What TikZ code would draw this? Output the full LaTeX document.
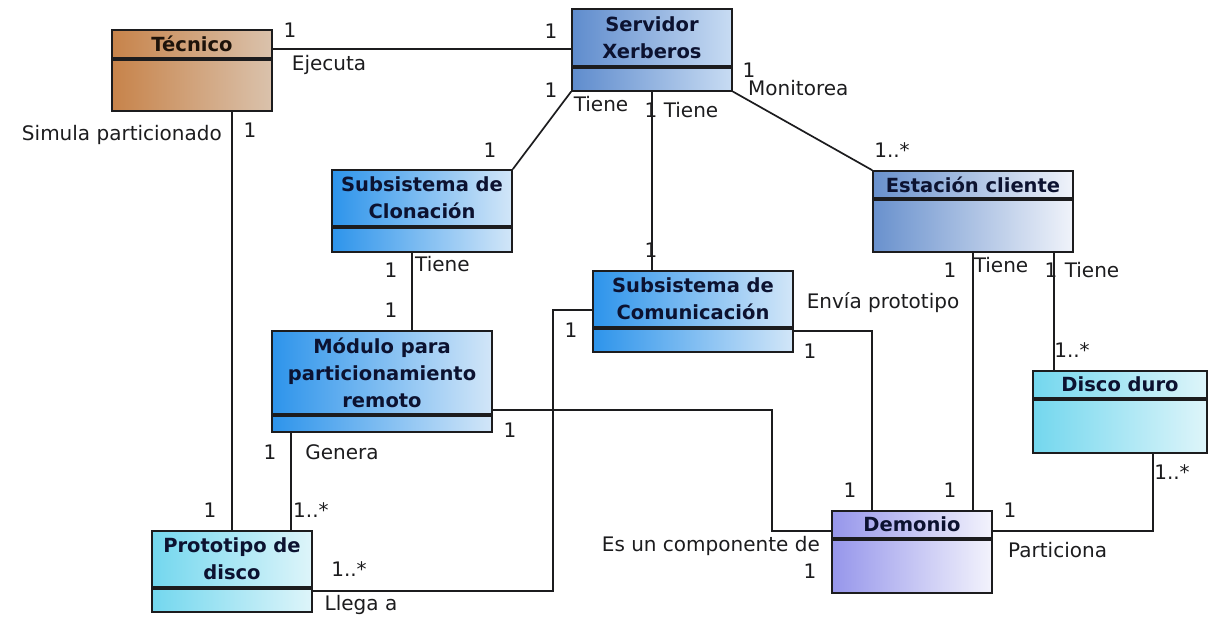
\documentclass[tikz,border=0pt]{standalone}
\usepackage{fontspec}
\setmainfont{DejaVu Sans}
\usetikzlibrary{positioning}
\definecolor{ink}{RGB}{28,28,30}
\definecolor{navy}{RGB}{12,18,48}
\definecolor{tecL}{RGB}{199,131,74}
\definecolor{tecR}{RGB}{218,194,172}
\definecolor{steelL}{RGB}{95,140,205}
\definecolor{steelR}{RGB}{200,220,243}
\definecolor{blueL}{RGB}{45,148,235}
\definecolor{blueR}{RGB}{210,230,248}
\definecolor{paleL}{RGB}{105,145,205}
\definecolor{paleR}{RGB}{240,243,250}
\definecolor{cyanL}{RGB}{115,215,238}
\definecolor{cyanR}{RGB}{222,245,250}
\definecolor{lilacL}{RGB}{150,150,235}
\definecolor{lilacR}{RGB}{243,243,252}

\begin{document}
\begin{tikzpicture}[x=1pt, y=-1pt,
    node distance=0pt,
    hdr/.style={draw=ink, line width=1.7pt, inner sep=0pt, align=center, text=navy, font=\fontsize{19.5}{27}\selectfont\bfseries},
    bdy/.style={draw=ink, line width=1.7pt, inner sep=0pt},
    assoc/.style={draw=ink, line width=1.7pt},
    lbl/.style={inner sep=0pt, text=ink, font=\fontsize{20}{24}\selectfont},
    tecshade/.style={left color=tecL, right color=tecR},
    steelshade/.style={left color=steelL, right color=steelR},
    blueshade/.style={left color=blueL, right color=blueR},
    paleshade/.style={left color=paleL, right color=paleR},
    cyanshade/.style={left color=cyanL, right color=cyanR},
    lilacshade/.style={left color=lilacL, right color=lilacR},
]
\useasboundingbox (0,0) rectangle (1212,624);

% --- clases ---
\node[hdr, tecshade, text=black!85!brown, minimum width=160pt, minimum height=28pt] (tecnico) at (192,44) {Técnico};
\node[bdy, tecshade, minimum width=160pt, minimum height=51pt, below=of tecnico] (tecnicob) {};

\node[hdr, steelshade, minimum width=160pt, minimum height=57pt] (servidor) at (652,37.5) {Servidor\\Xerberos};
\node[bdy, steelshade, minimum width=160pt, minimum height=23pt, below=of servidor] (servidorb) {};

\node[hdr, blueshade, minimum width=180pt, minimum height=56pt] (clonacion) at (422,198) {Subsistema de\\Clonación};
\node[bdy, blueshade, minimum width=180pt, minimum height=24pt, below=of clonacion] (clonacionb) {};

\node[hdr, blueshade, minimum width=200pt, minimum height=56pt] (comunic) at (693,299) {Subsistema de\\Comunicación};
\node[bdy, blueshade, minimum width=200pt, minimum height=23pt, below=of comunic] (comunicb) {};

\node[hdr, paleshade, minimum width=200pt, minimum height=27pt] (estacion) at (973,184.5) {Estación cliente};
\node[bdy, paleshade, minimum width=200pt, minimum height=52pt, below=of estacion] (estacionb) {};

\node[hdr, blueshade, minimum width=220pt, minimum height=83pt] (modulo) at (382,372.5) {Módulo para\\particionamiento\\remoto};
\node[bdy, blueshade, minimum width=220pt, minimum height=16pt, below=of modulo] (modulob) {};

\node[hdr, cyanshade, minimum width=174pt, minimum height=27pt] (disco) at (1120,384.5) {Disco duro};
\node[bdy, cyanshade, minimum width=174pt, minimum height=53pt, below=of disco] (discob) {};

\node[hdr, cyanshade, minimum width=160pt, minimum height=56pt] (prototipo) at (232,559) {Prototipo de\\disco};
\node[bdy, cyanshade, minimum width=160pt, minimum height=23pt, below=of prototipo] (prototipob) {};

\node[hdr, lilacshade, minimum width=160pt, minimum height=27pt] (demonio) at (912,524.5) {Demonio};
\node[bdy, lilacshade, minimum width=160pt, minimum height=53pt, below=of demonio] (demoniob) {};

% --- asociaciones ---
\draw[assoc] ([yshift=-5pt]tecnico.east) -- ([yshift=-5pt]tecnico.east -| servidor.west);
\draw[assoc] (prototipo.north |- tecnicob.south) -- (prototipo.north);
\draw[assoc] (servidorb.south west) -- (clonacion.north east);
\draw[assoc] (servidorb.south) -- (servidorb.south |- comunic.north);
\draw[assoc] (servidorb.south east) -- (estacion.north west);
\draw[assoc] ([xshift=-10pt]clonacionb.south |- modulo.north) -- ([xshift=-10pt]clonacionb.south);
\draw[assoc] ([xshift=20pt]modulob.south west) -- ([xshift=20pt]modulob.south west |- prototipo.north);
\draw[assoc] ([yshift=5pt]modulo.south east) -| ([xshift=-59pt,yshift=-6.5pt]demonio.west) -- ([yshift=-6.5pt]demonio.west);
\draw[assoc] ([yshift=-11pt]comunic.west) -| ([xshift=240pt,yshift=-3pt]prototipob.north east) -- ([yshift=-3pt]prototipob.north east);
\draw[assoc] ([yshift=-3pt]comunicb.north east) -| ([xshift=-40pt]demonio.north);
\draw[assoc] (estacionb.south) -- (estacionb.south |- demonio.north);
\draw[assoc] ([xshift=-20pt]estacionb.south east) -- ([xshift=-20pt]estacionb.south east |- disco.north);
\draw[assoc] ([xshift=33pt]discob.south) |- ([yshift=-6.5pt]demonio.east);

% --- roles y multiplicidades ---
\foreach \x/\y/\a/\t [count=\i] in {
    290/30/center/1, 329/65/center/Ejecuta, 551/31/center/1,
    222/135/east/Simula particionado, 250/130/center/1, 210/510/center/1,
    551/90/center/1, 601/104/center/Tiene, 490/150/center/1,
    651/110/center/1, 691/110/center/Tiene, 651/250/center/1,
    749/70/center/1, 748/88/west/Monitorea, 892/150/center/1..*,
    391/270/center/1, 415/264/west/Tiene, 391/310/center/1,
    270/452/center/1, 342/452/center/Genera, 293/510/west/1..*,
    510/430/center/1, 850/490/center/1, 820/546/east/Es un componente de, 810/571/center/1,
    571/330/center/1, 349/569/center/1..*, 361/605/center/Llega a,
    883/303/center/Envía prototipo, 810/351/center/1,
    950/270/center/1, 1001/265/center/Tiene, 950/490/center/1,
    1051/270/center/1, 1092/270/center/Tiene, 1072/350/center/1..*,
    1172/472/center/1..*, 1010/510/center/1, 1008/550/west/Particiona}
    \node[lbl, anchor=\a] (m\i) at (\x,\y) {\t};

\end{tikzpicture}
\end{document}
